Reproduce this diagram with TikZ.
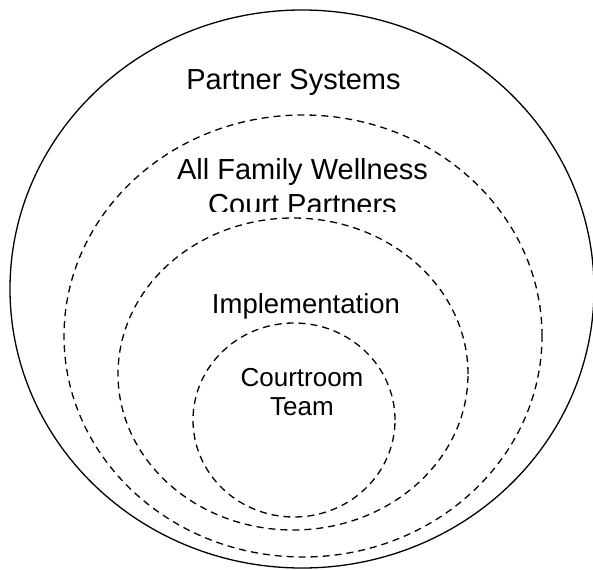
\documentclass[tikz,border=0pt]{standalone}
\usepackage{fontspec}
\setmainfont{Liberation Sans}

\begin{document}
\begin{tikzpicture}[x=1pt,y=1pt,
  ring/.style={black, line width=1.3pt, dash pattern=on 7pt off 5pt},
  lbl/.style={align=center, inner sep=0pt, anchor=base, font=\fontsize{29}{34}\selectfont}]
\useasboundingbox (0,0) rectangle (593,-569);
\draw [black, line width=1.3pt] (302,-289) ellipse (292 and 279);
\draw [ring] (303,-336) ellipse (239 and 221);
\draw [ring] (293,-374) ellipse (175 and 156);
\draw [ring] (294,-420) ellipse (101 and 97);
\node [lbl] (systems) at (293.5,-90) {Partner Systems};
% second line cut off at the bottom
\begin{scope}
\clip (0,0) rectangle (593,-211);
\node [lbl] (wellness) at (302.5,-214) {All Family Wellness\\Court Partners};
\end{scope}
\node [lbl, font=\fontsize{27.5}{32}\selectfont] (implementation) at (306,-313) {Implementation};
\node [lbl, font=\fontsize{26}{29}\selectfont] (courtroom) at (302,-415) {Courtroom\\Team};
\end{tikzpicture}
\end{document}
